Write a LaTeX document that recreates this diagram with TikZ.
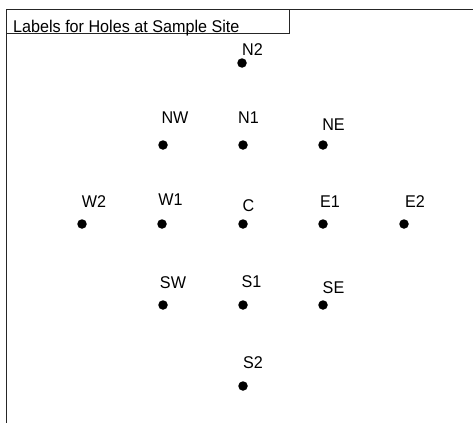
\documentclass[tikz,border=0pt]{standalone}
\usepackage{fontspec}
\setmainfont{Liberation Sans}[FakeStretch=0.95]
\begin{document}
\begin{tikzpicture}[x=1pt,y=-1pt,
  hole/.style={circle,fill=black,inner sep=0pt,minimum size=9.5pt},
  lab/.style={inner sep=0pt,font=\fontsize{17}{19}\selectfont},
  frame/.style={line width=0.9pt,draw=black!85}]
\useasboundingbox (0,0) rectangle (473,423);
% frame
\coordinate (tl) at (6,9);
\coordinate (tr) at (473,9);
\coordinate (bl) at (6,423);
\draw[frame] (tr) -- (tl) -- (bl);
\node[frame, draw, anchor=north west, inner sep=0pt, minimum width=283pt, minimum height=24pt] (titlebox) at (6,9) {};
\node[lab, anchor=base west] (title) at (13,32.5) {Labels for Holes at Sample Site};
% holes
\node[hole] (N2) at (242,63) {};
\node[hole] (NW) at (163,145) {};
\node[hole] (N1) at (243,145) {};
\node[hole] (NE) at (323,145) {};
\node[hole] (W2) at (82,224) {};
\node[hole] (W1) at (162,224) {};
\node[hole] (C)  at (243,224) {};
\node[hole] (E1) at (323,224) {};
\node[hole] (E2) at (404,224) {};
\node[hole] (SW) at (163,305) {};
\node[hole] (S1) at (243,305) {};
\node[hole] (SE) at (323,305) {};
\node[hole] (S2) at (243,386) {};
% labels
\node[lab] (lN2) at (252.5,50) {N2};
\node[lab] (lNW) at (175,118) {NW};
\node[lab] (lN1) at (248.5,118) {N1};
\node[lab] (lNE) at (333.5,124.5) {NE};
\node[lab] (lW2) at (94,201.5) {W2};
\node[lab] (lW1) at (170.5,200) {W1};
\node[lab] (lC)  at (248.5,206) {C};
\node[lab] (lE1) at (330,201.5) {E1};
\node[lab] (lE2) at (415,201.5) {E2};
\node[lab] (lSW) at (173,282.5) {SW};
\node[lab] (lS1) at (251.5,282) {S1};
\node[lab] (lSE) at (333.5,287.5) {SE};
\node[lab] (lS2) at (253,363) {S2};
\end{tikzpicture}
\end{document}
